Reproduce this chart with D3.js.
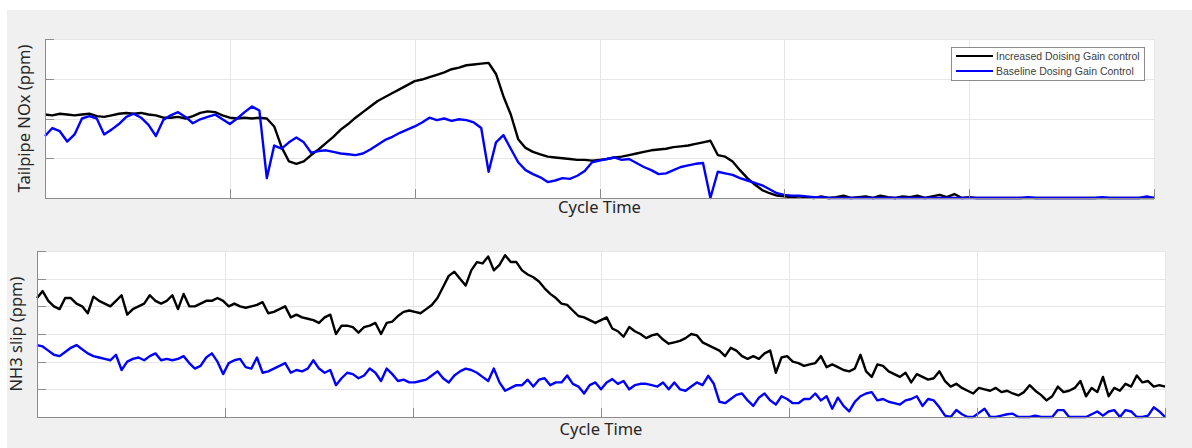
<!DOCTYPE html>
<html>
<head>
<meta charset="utf-8">
<script src="https://cdn.jsdelivr.net/npm/d3@7"></script>
<style>
  body { margin: 0; background: #fff; }
  .grid line { stroke: #e6e6e6; stroke-width: 1; shape-rendering: crispEdges; }
  .grid path { display: none; }
  .axis path, .axis line { stroke: #8c8c8c; stroke-width: 1; shape-rendering: crispEdges; }
  .label { font-family: "Noto Sans", sans-serif; font-size: 16.5px; fill: #262626; }
  .legend text { font-family: "Liberation Sans", Arial, sans-serif; font-size: 10.5px; fill: #404040; }
</style>
</head>
<body>
<div id="chart"></div>
<script>
// Global Variables

//Width and height
var w = 1192;
var h = 448;

// Cycle time samples (s) for the two panels
var noxTime = d3.range(0, 1801, 12);
var nh3Time = d3.range(0, 1801, 9);

// Tailpipe NOx (ppm)
var noxIncreased = [
	105, 104, 106, 105, 104, 105, 106, 103, 102, 104,
	106, 107, 106, 107, 105, 104, 101, 101, 102, 100,
	103, 107, 109, 108, 104, 101, 100, 101, 100, 101,
	100, 90, 64, 46, 43, 46, 54, 61, 69, 77,
	86, 93, 101, 108, 115, 122, 127, 132, 137, 142,
	147, 149, 152, 155, 158, 162, 164, 167, 168, 169,
	170, 156, 128, 105, 74, 63, 58, 55, 52, 51,
	50, 49, 48, 48, 47, 48, 49, 51, 52, 54,
	56, 58, 60, 61, 62, 64, 65, 66, 68, 70,
	72, 54, 52, 46, 35, 25, 17, 10, 6, 3,
	2, 1, 2, 1, 0, 2, 0, 1, 3, 0,
	1, 2, 0, 3, 1, 0, 2, 1, 3, 0,
	2, 4, 1, 5, 0, 1, 0, 0, 0, 0,
	0, 0, 0, 0, 0, 0, 0, 0, 0, 0,
	0, 0, 0, 0, 0, 0, 0, 0, 0, 0,
	0
];
var noxBaseline = [
	78, 88, 84, 71, 80, 100, 103, 100, 80, 86,
	93, 102, 106, 101, 92, 78, 98, 104, 108, 102,
	94, 99, 102, 105, 99, 93, 100, 108, 115, 110,
	25, 66, 62, 70, 76, 70, 57, 59, 60, 58,
	56, 55, 54, 56, 61, 67, 73, 77, 82, 86,
	90, 95, 101, 98, 100, 97, 99, 98, 95, 88,
	33, 70, 79, 62, 45, 35, 30, 26, 20, 22,
	25, 24, 28, 34, 45, 47, 49, 51, 48, 49,
	44, 39, 35, 30, 31, 35, 39, 41, 43, 44,
	0, 33, 31, 29, 25, 22, 19, 16, 11, 6,
	4, 3, 3, 2, 1, 1, 0, 0, 0, 0,
	0, 0, 0, 0, 0, 0, 0, 0, 0, 0,
	0, 0, 0, 0, 0, 0, 0, 0, 0, 0,
	0, 0, 0, 1, 0, 0, 0, 0, 0, 0,
	0, 0, 0, 1, 0, 0, 0, 0, 0, 2,
	0
];

// NH3 slip (ppm)
var nh3Increased = [
	43, 45.5, 42, 40, 39, 43, 43, 41, 40, 37.5,
	43.5, 42, 41, 40, 42, 44, 37, 39, 40, 41,
	44, 42, 41, 42, 44, 39, 44.5, 40, 40, 41,
	42, 42, 43, 42, 40, 41, 40, 39.5, 40, 40.5,
	41.5, 37.5, 38, 39, 40, 36, 37, 36, 35.5, 35,
	34, 36, 37, 30, 33, 33, 32.5, 30.5, 32.5, 33,
	34, 30, 34, 34.5, 36.5, 38, 38.5, 38, 37.5, 39,
	40.5, 43, 47, 51, 52.5, 50, 47.5, 53, 56, 55.5,
	58, 53, 55, 58.5, 56, 56, 53, 51.5, 50.5, 49,
	46.5, 44.5, 43, 41, 40.5, 38.5, 36.5, 36, 35, 34,
	35, 36, 32, 31, 29, 32.5, 31, 30, 28.5, 29.5,
	30, 28, 26.5, 27, 27.5, 28.5, 30, 29.5, 27, 26,
	25, 24, 22, 25, 24, 22, 21, 22, 21, 23,
	24, 16, 21.5, 22, 20, 19.5, 18.5, 19, 19.5, 22,
	18, 19, 18, 17, 16.5, 17.5, 22.5, 16.5, 14.5, 19,
	18.5, 16.5, 15.5, 14.5, 16, 12.5, 15.5, 14.5, 13.5, 14,
	16.5, 13, 11, 12, 10.5, 9.5, 8.5, 10.5, 10, 9.5,
	10.5, 9, 9.5, 8.5, 7.8, 9, 11.5, 9.5, 8, 6,
	7.5, 11, 9, 9.5, 10.5, 13, 7.5, 10.5, 9, 14.5,
	7.5, 10.5, 9.5, 12, 11, 15, 12.5, 13, 11, 11.5,
	11
];
var nh3Baseline = [
	26, 25.5, 24, 22.5, 22, 23.5, 25, 26, 24.5, 23,
	22, 21.5, 21, 20.5, 22.5, 17, 20, 21, 21.5, 20.5,
	22, 23, 20.5, 21, 20.5, 21, 22, 19.5, 17.5, 18.5,
	21.5, 23, 20, 15.5, 19.5, 20.5, 21, 18, 17.5, 21.5,
	16, 16.5, 17.5, 18.5, 19.5, 16, 17, 16.5, 17.5, 20.5,
	17.5, 16, 17, 11.5, 14, 16, 15.5, 14, 15, 17.5,
	16, 13, 17.5, 15.5, 13, 13.5, 12.5, 12.5, 13, 13.5,
	15, 16.5, 14, 12.5, 15, 16.5, 17.5, 17, 16, 14.5,
	13, 17.5, 12.5, 9.5, 10.5, 11.5, 11.5, 13.5, 11, 13.5,
	14, 11.5, 12.5, 12.5, 15, 12, 11, 8.5, 11.5, 12.5,
	10, 12.5, 13.7, 12, 13, 10, 11.5, 12, 12, 11.5,
	11, 12.5, 10, 12.5, 10, 9.5, 11, 12.5, 11.5, 14.9,
	12, 5.5, 5, 6.5, 8, 8.5, 6, 4, 7, 8.5,
	6, 4.5, 7.5, 6.5, 5, 5, 6.5, 6.5, 8.5, 6,
	7.5, 3, 7, 4, 2, 5.5, 7.5, 8.5, 9, 6,
	6.5, 5.5, 5, 4.5, 6, 6.5, 7.5, 4, 6.5, 6,
	3.5, 0.5, 0, 2.5, 1, 0, 0, 1.5, 3, 0,
	0, 0.5, 1, 1.2, 0, 0, 0, 0.5, 0, 0,
	0, 2.5, 2.5, 0, 0, 0, 0, 1, 2, 0.5,
	2, 2.5, 0, 2.5, 2, 0, 0, 0.5, 3.5, 2,
	0
];

var seriesNames = ["Increased Doising Gain control", "Baseline Dosing Gain Control"];
var seriesColors = ["#000000", "#0000ff"];

var noxTicks = [0, 50, 100, 150, 200];
var nh3Ticks = [0, 10, 20, 30, 40, 50, 60];
var timeTicks = [0, 300, 600, 900, 1200, 1500, 1800];

//Create SVG element
var svg = d3.select("#chart")
			.append("svg")
			.attr("width", w)
			.attr("height", h);

// Figure background (grey with a thin white margin top and left)
svg.append("rect")
	.attr("width", w)
	.attr("height", h)
	.style("fill", "#ffffff");
svg.append("rect")
	.attr("x", 7)
	.attr("y", 10)
	.attr("width", w - 7)
	.attr("height", h - 10)
	.style("fill", "#f0f0f0");

// Draws one panel: white plot box, grid, axes, two lines and the axis titles
function drawPanel(p) {
	var x = d3.scaleLinear().domain([0, 1800]).range([p.left, p.right]);
	var y = d3.scaleLinear().domain([0, p.yMax]).range([p.bottom, p.top]);
	var g = svg.append("g");

	g.append("rect")
		.attr("x", p.left)
		.attr("y", p.top)
		.attr("width", p.right - p.left)
		.attr("height", p.bottom - p.top)
		.style("fill", "#ffffff");

	// grid lines
	g.append("g")
		.attr("class", "grid")
		.attr("transform", "translate(" + p.left + ",0)")
		.call(d3.axisLeft(y).tickValues(p.yTicks).tickSize(-(p.right - p.left)).tickFormat(""));
	g.append("g")
		.attr("class", "grid")
		.attr("transform", "translate(0," + p.bottom + ")")
		.call(d3.axisBottom(x).tickValues(timeTicks).tickSize(-(p.bottom - p.top)).tickFormat(""));

	// series lines, baseline drawn last so it sits on top
	var line = d3.line()
		.x(function(d, i) { return x(p.time[i]); })
		.y(function(d) { return y(d); });
	p.series.forEach(function(s, i) {
		g.append("path")
			.datum(s)
			.attr("d", line)
			.style("fill", "none")
			.style("stroke", seriesColors[i])
			.style("stroke-width", 2.4)
			.style("stroke-linejoin", "round");
	});

	// axes with inward ticks, no labels
	g.append("g")
		.attr("class", "axis")
		.attr("transform", "translate(" + p.left + ",0)")
		.call(d3.axisLeft(y).tickValues(p.yTicks).tickSizeInner(-9).tickSizeOuter(0).tickFormat(""));
	g.append("g")
		.attr("class", "axis")
		.attr("transform", "translate(0," + p.bottom + ")")
		.call(d3.axisBottom(x).tickValues(timeTicks).tickSizeInner(-9).tickSizeOuter(0).tickFormat(""));

	g.append("text")
		.attr("class", "label")
		.attr("text-anchor", "middle")
		.attr("x", (p.left + p.right) / 2)
		.attr("y", p.bottom + p.xTitleGap)
		.text("Cycle Time");

	g.append("text")
		.attr("class", "label")
		.attr("text-anchor", "middle")
		.attr("transform", "translate(" + p.yTitleX + "," + (p.top + p.bottom) / 2 + ") rotate(-90)")
		.text(p.yTitle);
}

drawPanel({
	left: 45, right: 1154, top: 39, bottom: 198,
	yMax: 200, yTicks: noxTicks,
	time: noxTime, series: [noxIncreased, noxBaseline],
	yTitle: "Tailpipe NOx (ppm)", yTitleX: 30, xTitleGap: 15
});

drawPanel({
	left: 37, right: 1165, top: 251, bottom: 417,
	yMax: 60, yTicks: nh3Ticks,
	time: nh3Time, series: [nh3Increased, nh3Baseline],
	yTitle: "NH3 slip (ppm)", yTitleX: 22, xTitleGap: 18
});

// Legend in the top panel
var legend = svg.append("g").attr("class", "legend");
legend.append("rect")
	.attr("x", 951.5)
	.attr("y", 47.5)
	.attr("width", 193)
	.attr("height", 33)
	.style("fill", "#ffffff")
	.style("stroke", "#8c8c8c");
seriesNames.forEach(function(name, i) {
	var ly = 56 + i * 15;
	legend.append("line")
		.attr("x1", 956)
		.attr("x2", 993)
		.attr("y1", ly)
		.attr("y2", ly)
		.style("stroke", seriesColors[i])
		.style("stroke-width", 2);
	legend.append("text")
		.attr("x", 996)
		.attr("y", ly + 3.5)
		.text(name);
});
</script>
</body>
</html>
